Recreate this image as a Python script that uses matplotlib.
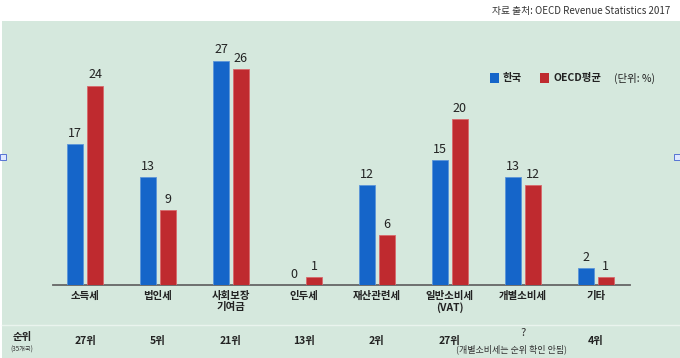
import numpy as np
import matplotlib.pyplot as plt
from matplotlib.transforms import blended_transform_factory
from matplotlib.patches import Rectangle
from matplotlib.lines import Line2D

plt.rcParams['font.family'] = ['Noto Sans CJK KR', 'DejaVu Sans']

# --- data ---
categories = ['소득세', '법인세', '사회보장\n기여금', '인두세', '재산관련세',
              '일반소비세\n(VAT)', '개별소비세', '기타']
korea = [17, 13, 27, 0, 12, 15, 13, 2]
oecd = [24, 9, 26, 1, 6, 20, 12, 1]
ranks = ['27위', '5위', '21위', '13위', '2위', '27위', '?', '4위']

BG = '#d5e8dd'
BLUE = '#1565c9'
RED = '#bf2a2f'
TXT = '#222222'
W, H = 680, 358

fig = plt.figure(figsize=(6.8, 3.58), dpi=100)
fig.patch.set_facecolor('white')
# green panel
fig.patches.append(Rectangle((2 / W, 0), 1, 1 - 21 / H, transform=fig.transFigure,
                             facecolor=BG, edgecolor='none', zorder=-5))

# axes: baseline at y=285px, top at y=21px, x from 53 to 630px
ax = fig.add_axes([53 / W, 1 - 285 / H, (630 - 53) / W, (285 - 21) / H])
ax.set_facecolor('none')

x = np.arange(len(categories))
bw = 0.22
off = 0.137
ax.bar(x - off, korea, bw, color=BLUE, edgecolor='#5b95d8', linewidth=0.6, zorder=3)
ax.bar(x + off, oecd, bw, color=RED, edgecolor='#d8686b', linewidth=0.6, zorder=3)

for xi, v in zip(x, korea):
    ax.text(xi - off, v + 0.5, str(v), ha='center', va='bottom', fontsize=9, color=TXT)
for xi, v in zip(x, oecd):
    ax.text(xi + off, v + 0.5, str(v), ha='center', va='bottom', fontsize=9, color=TXT)

ax.set_xlim(-0.44, 7.47)
ax.set_ylim(0, 264 / 8.31)
ax.set_xticks(x, categories, fontsize=7.5, color=TXT, fontweight='bold', linespacing=1.15)
ax.tick_params(axis='x', length=0, pad=4)
ax.set_yticks([])
for s in ['top', 'left', 'right']:
    ax.spines[s].set_visible(False)
ax.spines['bottom'].set_color('#666666')
ax.spines['bottom'].set_linewidth(1.3)

# legend
ax.add_patch(Rectangle((490 / W, 1 - 83 / H), 9 / W, 10 / H, transform=fig.transFigure,
                       facecolor=BLUE, edgecolor='none', clip_on=False))
ax.add_patch(Rectangle((540 / W, 1 - 83 / H), 9 / W, 10 / H, transform=fig.transFigure,
                       facecolor=RED, edgecolor='none', clip_on=False))
fig.text(503 / W, 1 - 78 / H, '한국', fontsize=7.5, va='center', color=TXT, fontweight='bold')
fig.text(553 / W, 1 - 78 / H, 'OECD평균', fontsize=7.5, va='center', color=TXT, fontweight='bold')
fig.text(614 / W, 1 - 78 / H, '(단위: %)', fontsize=7.5, va='center', color=TXT)

# source
fig.text(670 / W, 1 - 11 / H, '자료 출처: OECD Revenue Statistics 2017', fontsize=7,
         ha='right', va='center', color='#333')

# rank row
fig.lines.append(Line2D([2 / W, 1], [1 - 325 / H] * 2, transform=fig.transFigure,
                        color='#eaf4ee', linewidth=1.0))
fig.text(22 / W, 1 - 337 / H, '순위', fontsize=7.5, ha='center', va='center', color=TXT,
         fontweight='bold')
fig.text(22 / W, 1 - 350 / H, '(35개국)', fontsize=4.5, ha='center', va='center', color='#333')
tr = blended_transform_factory(ax.transData, fig.transFigure)
for xi, r in zip(x, ranks):
    if r == '?':
        ax.text(xi, 1 - 333 / H, r, transform=tr, fontsize=8, ha='center', va='center', color='#333')
        ax.text(xi - 0.16, 1 - 349 / H, '(개별소비세는 순위 확인 안됨)', transform=tr, fontsize=6.5,
                ha='center', va='center', color='#333')
    else:
        ax.text(xi, 1 - 341 / H, r, transform=tr, fontsize=7.5, ha='center', va='center',
                color=TXT, fontweight='bold')

# little selection handles at the panel edges
for hx in (0, 674):
    fig.patches.append(Rectangle((hx / W, 1 - 160 / H), 6 / W, 6 / H, transform=fig.transFigure,
                                 facecolor='#dfe8ff', edgecolor='#4060d0', linewidth=0.6))

fig.savefig('out.png', dpi=100, facecolor=fig.get_facecolor())
